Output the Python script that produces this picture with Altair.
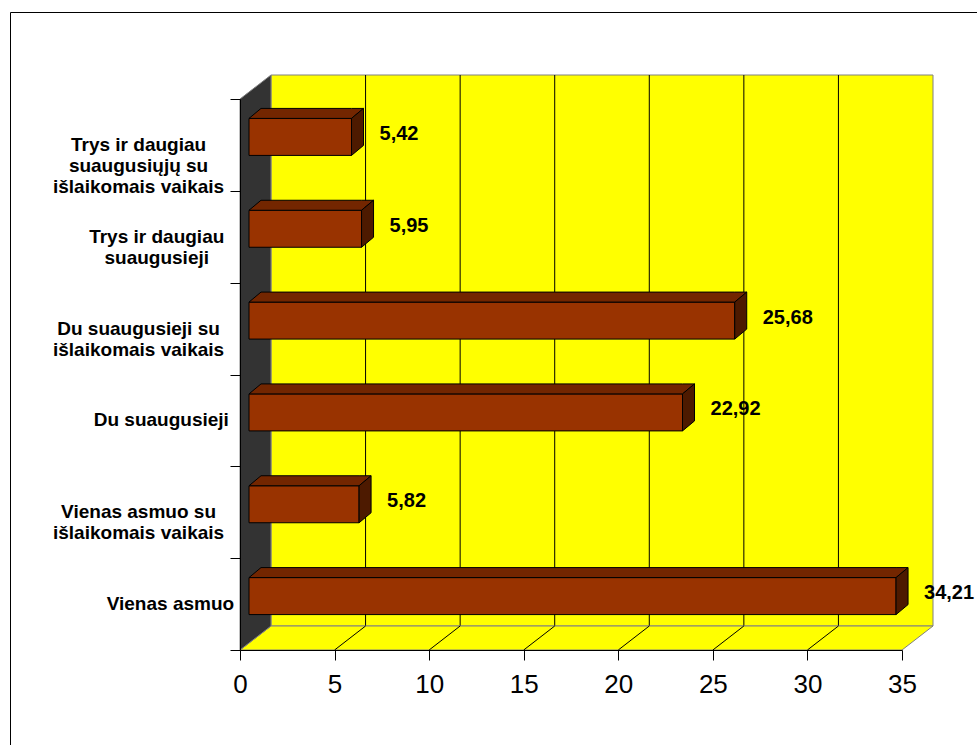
import altair as alt
import pandas as pd

# ---------------- data ----------------
categories = [
    "Trys ir daugiau\nsuaugusiųjų su\nišlaikomais vaikais",
    "Trys ir daugiau\nsuaugusieji",
    "Du suaugusieji su\nišlaikomais vaikais",
    "Du suaugusieji",
    "Vienas asmuo su\nišlaikomais vaikais",
    "Vienas asmuo",
]
values = [5.42, 5.95, 25.68, 22.92, 5.82, 34.21]
x_ticks = [0, 5, 10, 15, 20, 25, 30, 35]

# ---------------- geometry (pixels -> data units) ----------------
W, H = 662, 551
XMAX = 35
NCAT = len(categories)
PXX = XMAX / W
PXY = NCAT / H

WALL_DX, WALL_DY = 31 * PXX, 24 * PXY       # depth of the 3D box
BAR_SX, BAR_SY = 9 * PXX, 8 * PXY           # bar placed inside the depth
BAR_DX, BAR_DY = 12 * PXX, 10 * PXY         # bar depth
BAR_HALF = 18.5 * PXY

FONT = "Liberation Sans"

rows = []
faces = []
for i, (cat, v) in enumerate(zip(categories, values)):
    c = (NCAT - 1 - i) + 0.5
    x0 = 0 + BAR_SX
    x1 = v + BAR_SX
    yb = c - BAR_HALF + BAR_SY
    yt = c + BAR_HALF + BAR_SY
    maxchars = max(len(s) for s in cat.split("\n"))
    lab_px = -15 - 0.5 * maxchars * 9.1
    rows.append(dict(cat=cat, value=v, label=f"{v:.2f}".replace(".", ","),
                     c=c, x0=x0, x1=x1, yb=yb, yt=yt, lx=lab_px * PXX))
    k = f"top{i}"
    faces += [
        dict(key=k, face="top", x=x0, y=yt, y2=yt),
        dict(key=k, face="top", x=x0 + BAR_DX, y=yt, y2=yt + BAR_DY),
        dict(key=k, face="top", x=x1, y=yt, y2=yt + BAR_DY),
        dict(key=k, face="top", x=x1 + BAR_DX, y=yt + BAR_DY, y2=yt + BAR_DY),
    ]
    k = f"side{i}"
    faces += [
        dict(key=k, face="side", x=x1, y=yb, y2=yt),
        dict(key=k, face="side", x=x1 + BAR_DX, y=yb + BAR_DY, y2=yt + BAR_DY),
    ]
bars = pd.DataFrame(rows)
faces = pd.DataFrame(faces)

wall = pd.DataFrame([dict(x0=WALL_DX, x1=XMAX + WALL_DX, y0=WALL_DY, y1=NCAT + WALL_DY)])
floor = pd.DataFrame([
    dict(x=0, y=0, y2=0),
    dict(x=WALL_DX, y=0, y2=WALL_DY),
    dict(x=XMAX, y=0, y2=WALL_DY),
    dict(x=XMAX + WALL_DX, y=WALL_DY, y2=WALL_DY),
])
leftwall = pd.DataFrame([
    dict(x=0, y=0, y2=NCAT),
    dict(x=WALL_DX, y=WALL_DY, y2=NCAT + WALL_DY),
])
grid = pd.DataFrame([dict(t=t, tb=t + WALL_DX, y0=WALL_DY, y1=NCAT + WALL_DY, z=0.0)
                     for t in x_ticks[1:-1]])
one = pd.DataFrame([dict(a=1)])

XS = alt.Scale(domain=[0, XMAX], nice=False, zero=False)
YS = alt.Scale(domain=[0, NCAT], nice=False, zero=False)
XA = alt.Axis(values=x_ticks, labelFontSize=26, labelFont=FONT, labelColor="black",
              tickColor="black", domainColor="black", tickSize=10, labelPadding=11,
              grid=False, zindex=1, labelFlush=False, labelOverlap=False)
YA = alt.Axis(values=list(range(NCAT + 1)), labels=False, tickColor="black",
              domainColor="black", tickSize=10, grid=False, zindex=1)


def X(f):
    return alt.X(f, scale=XS, axis=XA, title=None)


def Y(f):
    return alt.Y(f, scale=YS, axis=YA, title=None, stack=False)


frame = alt.Chart(one).mark_rect(fillOpacity=0, stroke="black", strokeWidth=1).encode(
    x=alt.value(-229.5), x2=alt.value(1000), y=alt.value(-86.5), y2=alt.value(800))

back = alt.Chart(wall).mark_rect(fill="#FFFF00", stroke="#808080", strokeWidth=1).encode(
    x=X("x0:Q"), x2="x1:Q", y=Y("y0:Q"), y2="y1:Q")

gridlines = alt.Chart(grid).mark_rule(color="#000000", strokeWidth=1).encode(
    x=X("tb:Q"), y=Y("y0:Q"), y2="y1:Q")

floor_l = alt.Chart(floor).mark_area(orient="vertical", fill="#FFFF00", stroke="#808080",
                                     strokeWidth=1).encode(x=X("x:Q"), y=Y("y:Q"), y2="y2:Q")

diag = alt.Chart(grid).mark_rule(color="#000000", strokeWidth=1).encode(
    x=X("t:Q"), x2="tb:Q", y=Y("z:Q"), y2="y0:Q")

left_l = alt.Chart(leftwall).mark_area(orient="vertical", fill="#333333", stroke="#808080",
                                       strokeWidth=1).encode(x=X("x:Q"), y=Y("y:Q"), y2="y2:Q")

front = alt.Chart(bars).mark_rect(fill="#993300", stroke="black", strokeWidth=1).encode(
    x=X("x0:Q"), x2="x1:Q", y=Y("yb:Q"), y2="yt:Q")

top_l = alt.Chart(faces[faces.face == "top"]).mark_area(
    orient="vertical", fill="#732600", stroke="black", strokeWidth=1).encode(
    x=X("x:Q"), y=Y("y:Q"), y2="y2:Q", detail="key:N")

side_l = alt.Chart(faces[faces.face == "side"]).mark_area(
    orient="vertical", fill="#4D1A00", stroke="black", strokeWidth=1).encode(
    x=X("x:Q"), y=Y("y:Q"), y2="y2:Q", detail="key:N")

vlabels = alt.Chart(bars).mark_text(align="left", baseline="middle", dx=37, dy=-11,
                                    font=FONT, fontSize=20, fontWeight="bold",
                                    color="black").encode(
    x=X("value:Q"), y=Y("c:Q"), text="label:N")

clabels = alt.Chart(bars).mark_text(align="center", baseline="middle", lineBreak="\n",
                                    lineHeight=21, font=FONT, fontSize=19,
                                    fontWeight="bold", color="black").encode(
    x=X("lx:Q"), y=Y("c:Q"), text="cat:N")

chart = alt.layer(
    frame, back, gridlines, floor_l, diag, left_l, front, top_l, side_l, vlabels, clabels
).properties(
    width=W, height=H,
    padding={"left": 240, "top": 99, "right": 75, "bottom": 95},
    autosize=alt.AutoSizeParams(type="none"),
    background="white",
).configure_view(stroke=None)

chart.save("out.html", embed_options={"renderer": "svg", "actions": False})
